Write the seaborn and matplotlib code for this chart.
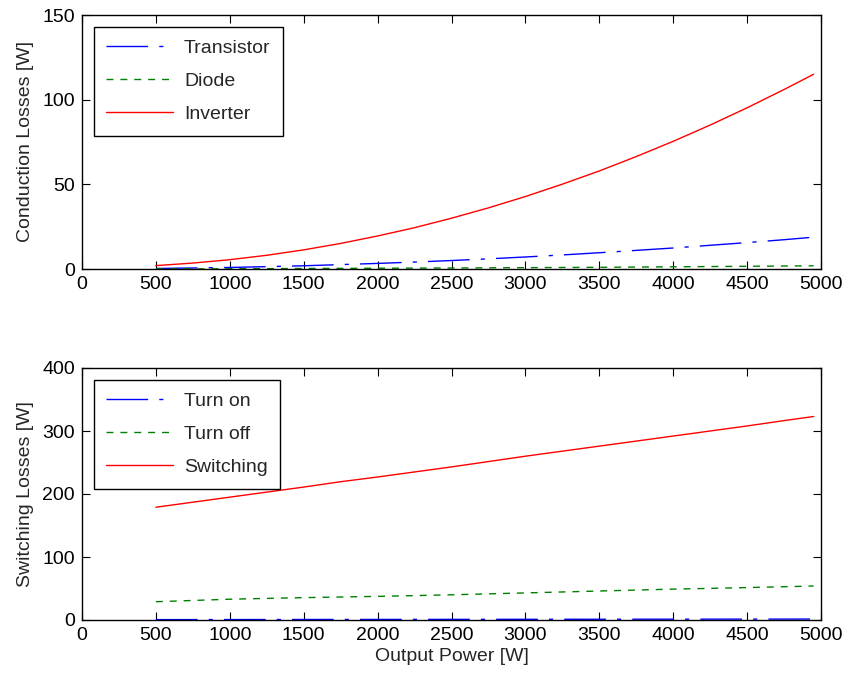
import matplotlib
matplotlib.use("Agg")
import matplotlib.pyplot as plt
import seaborn as sns
import pandas as pd

# ---- data ----
power = [500, 750, 1000, 1250, 1500, 1750, 2000, 2250, 2500, 2750,
         3000, 3250, 3500, 3750, 4000, 4250, 4500, 4750, 4950]

transistor = [0.3, 0.6, 0.9, 1.4, 1.9, 2.6, 3.3, 4.1, 5.0, 6.0,
              7.1, 8.3, 9.6, 11.0, 12.4, 14.0, 15.6, 17.3, 18.8]
diode = [0.05, 0.1, 0.15, 0.22, 0.3, 0.37, 0.45, 0.52, 0.6, 0.7,
         0.8, 0.9, 1.0, 1.15, 1.3, 1.45, 1.6, 1.75, 1.9]
inverter = [2.0, 3.5, 5.5, 8.1, 11.3, 15.1, 19.5, 24.4, 30.0, 36.1,
            42.8, 50.1, 57.9, 66.4, 75.4, 85.0, 95.2, 106.0, 115.0]

turn_on = [0.6, 0.65, 0.7, 0.75, 0.8, 0.85, 0.9, 0.95, 1.0, 1.05,
           1.1, 1.15, 1.2, 1.25, 1.3, 1.35, 1.4, 1.45, 1.5]
turn_off = [29.0, 31.0, 33.0, 34.3, 35.5, 36.5, 37.5, 38.7, 40.0, 41.5,
            43.0, 44.5, 46.0, 47.5, 49.0, 50.2, 51.5, 52.8, 54.0]
switching = [179.0, 187.0, 195.0, 203.0, 211.0, 219.5, 227.0, 235.0, 243.0, 251.5,
             260.0, 268.0, 276.0, 284.0, 292.0, 300.0, 308.0, 316.5, 323.0]

top_labels = ["Transistor", "Diode", "Inverter"]
bot_labels = ["Turn on", "Turn off", "Switching"]
x_ticks = [0, 500, 1000, 1500, 2000, 2500, 3000, 3500, 4000, 4500, 5000]

sns.set_style("white")
plt.rcParams["font.family"] = ["Liberation Sans", "DejaVu Sans"]
plt.rcParams["font.size"] = 14

FS = 14

fig = plt.figure(figsize=(8.46, 6.75), dpi=100)
ax1 = fig.add_axes([82/846, 1-269/675, 739/846, 254/675])
ax2 = fig.add_axes([82/846, 1-620/675, 739/846, 252/675])

blue, green, red = "#0000ff", "#008000", "#ff0000"
dashdot = (0, (30, 8, 3, 8))
dashed = (0, (5, 5))

df_top = pd.DataFrame({"P": power, top_labels[0]: transistor,
                       top_labels[1]: diode, top_labels[2]: inverter})
df_bot = pd.DataFrame({"P": power, bot_labels[0]: turn_on,
                       bot_labels[1]: turn_off, bot_labels[2]: switching})

styles = [(blue, dashdot), (green, dashed), (red, "-")]

for ax, df, labels in [(ax1, df_top, top_labels), (ax2, df_bot, bot_labels)]:
    for lab, (c, ls) in zip(labels, styles):
        sns.lineplot(data=df, x="P", y=lab, ax=ax, color=c, linestyle=ls,
                     linewidth=1.0, label=lab)
    ax.set_xlim(0, 5000)
    ax.set_xticks(x_ticks)
    ax.set_xlabel("")
    for sp in ax.spines.values():
        sp.set_color("black")
        sp.set_linewidth(1.0)
    ax.tick_params(direction="in", length=6, width=0.8, top=True, right=True,
                   bottom=True, left=True, labelsize=FS, colors="black", pad=5)
    leg = ax.legend(loc="upper left", frameon=True, fancybox=False,
                    edgecolor="black", framealpha=1, fontsize=FS,
                    handlelength=3.45, labelspacing=0.8, borderpad=0.65,
                    borderaxespad=0.6, handletextpad=0.55)
    leg.get_frame().set_linewidth(1.0)

ax1.set_ylim(0, 150)
ax1.set_yticks([0, 50, 100, 150])
ax1.set_ylabel("Conduction Losses [W]", fontsize=FS, labelpad=6)

ax2.set_ylim(0, 400)
ax2.set_yticks([0, 100, 200, 300, 400])
ax2.set_ylabel("Switching Losses [W]", fontsize=FS, labelpad=6)
ax2.set_xlabel("Output Power [W]", fontsize=FS, labelpad=3)

fig.savefig("out.png", dpi=100, facecolor="white")
